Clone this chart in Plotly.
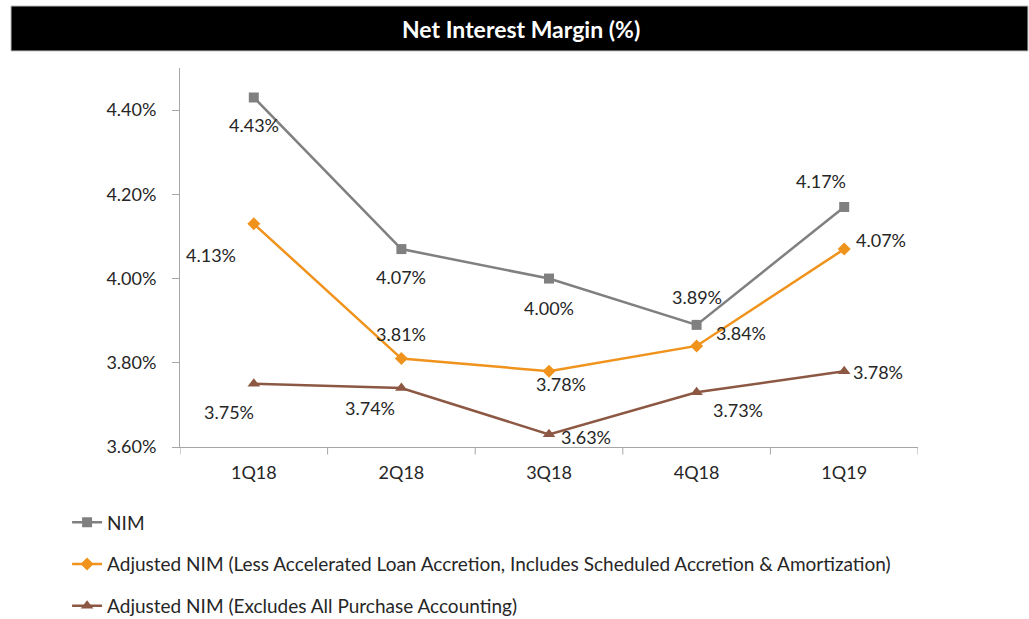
import plotly.graph_objects as go

quarters = ["1Q18", "2Q18", "3Q18", "4Q18", "1Q19"]
nim = [4.43, 4.07, 4.00, 3.89, 4.17]
adj_less_accel = [4.13, 3.81, 3.78, 3.84, 4.07]
adj_excl_purchase = [3.75, 3.74, 3.63, 3.73, 3.78]

series_names = [
    "NIM",
    "Adjusted NIM (Less Accelerated Loan Accretion, Includes Scheduled Accretion & Amortization)",
    "Adjusted NIM (Excludes All Purchase Accounting)",
]
colors = ["#808080", "#F0931C", "#8C5843"]
symbols = ["square", "diamond", "triangle-up"]
marker_sizes = [10, 10, 11]

# pixel offsets for each value label (dx, dy), per series
label_offsets = [
    [(0, -28), (0, -28), (0, -29), (0, 28), (-23, 26)],
    [(-43, -31), (0, 25), (12, -13), (44, 13), (37, 9)],
    [(-25, -28), (-31, -20), (37, -3), (41, -18), (34, -1)],
]

font_family = "Lato, 'Open Sans', sans-serif"
text_color = "#262626"
axis_color = "#A6A6A6"

fig = go.Figure()
all_series = [nim, adj_less_accel, adj_excl_purchase]
for i, vals in enumerate(all_series):
    fig.add_trace(go.Scatter(
        x=quarters,
        y=vals,
        name=series_names[i],
        mode="lines+markers",
        line=dict(color=colors[i], width=2.5),
        marker=dict(symbol=symbols[i], size=marker_sizes[i], color=colors[i]),
        legendgroup=f"g{i}",
    ))
    for j, v in enumerate(vals):
        dx, dy = label_offsets[i][j]
        fig.add_annotation(
            x=quarters[j], y=v, text=f"{v:.2f}%",
            showarrow=False, xshift=dx, yshift=dy,
            font=dict(family=font_family, size=18, color=text_color),
        )

# Title banner
fig.add_shape(
    type="rect", xref="paper", yref="paper",
    x0=-0.229, x1=1.149, y0=1.0449, y1=1.1636,
    fillcolor="black", line=dict(color="#BFBFBF", width=1), layer="above",
)
fig.add_annotation(
    xref="paper", yref="paper", x=0.4614, y=1.104,
    xanchor="center", yanchor="middle",
    text="<b>Net Interest Margin (%)</b>", showarrow=False,
    font=dict(family=font_family, size=23, color="white"),
)

fig.update_layout(
    width=1029, height=619,
    margin=dict(l=180, r=111, t=68, b=172, autoexpand=False),
    paper_bgcolor="white", plot_bgcolor="white",
    font=dict(family=font_family, size=18, color=text_color),
    showlegend=True,
    legend=dict(
        x=-0.153, y=-0.149, xanchor="left", yanchor="top",
        orientation="v", tracegroupgap=14,
        font=dict(family=font_family, size=19, color=text_color),
        bgcolor="rgba(0,0,0,0)",
    ),
    xaxis=dict(
        range=[-0.5, 4.5], showline=True, linecolor=axis_color, linewidth=1,
        ticks="", showgrid=False, zeroline=False, ticklabelstandoff=9,
        tickfont=dict(size=18, color=text_color),
    ),
    yaxis=dict(
        range=[3.6, 4.5], tickvals=[3.6, 3.8, 4.0, 4.2, 4.4],
        ticktext=["3.60%", "3.80%", "4.00%", "4.20%", "4.40%"],
        showline=True, linecolor=axis_color, linewidth=1,
        ticks="outside", ticklen=7, tickcolor=axis_color,
        ticklabelstandoff=12,
        showgrid=False, zeroline=False,
        tickfont=dict(size=18, color=text_color),
    ),
)

# category boundary ticks on the x axis
for k in range(-1, 5):
    fig.add_shape(
        type="line", xref="x", yref="paper",
        x0=k + 0.5, x1=k + 0.5, y0=0, y1=-0.02,
        line=dict(color=axis_color, width=1),
    )

fig.write_html("out.html")
